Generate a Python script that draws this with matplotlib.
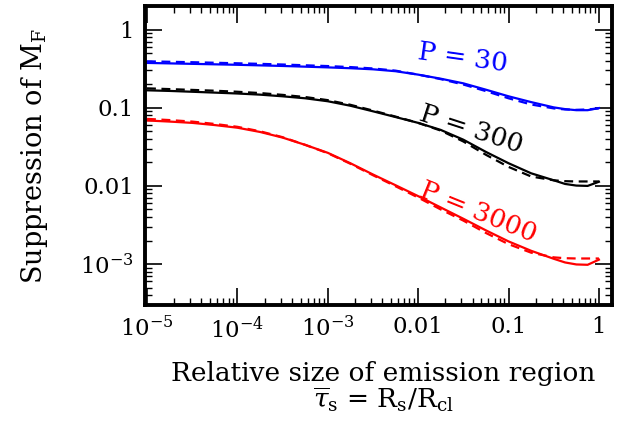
import numpy as np
import matplotlib
matplotlib.use("Agg")
from matplotlib import pyplot as plt

plt.rcParams["font.family"] = "DejaVu Serif"
plt.rcParams["mathtext.fontset"] = "dejavuserif"

# log10 of relative size, where curves were read
logx = [-5, -4.75, -4.5, -4.25, -4, -3.75, -3.5, -3.25, -3, -2.75, -2.5, -2.25,
        -2, -1.75, -1.5, -1.25, -1, -0.75, -0.5, -0.375, -0.25, -0.125, 0]

p30_solid = [0.374, 0.369, 0.364, 0.359, 0.354, 0.348, 0.342, 0.335, 0.328, 0.320, 0.310, 0.293,
             0.265, 0.235, 0.205, 0.170, 0.140, 0.118, 0.101, 0.096, 0.093, 0.093, 0.099]
p30_dash = [0.392, 0.387, 0.382, 0.376, 0.370, 0.364, 0.357, 0.349, 0.341, 0.331, 0.318, 0.298,
            0.265, 0.232, 0.198, 0.163, 0.132, 0.110, 0.098, 0.095, 0.094, 0.095, 0.098]
p300_solid = [0.167, 0.164, 0.160, 0.156, 0.152, 0.147, 0.140, 0.132, 0.121, 0.106, 0.090, 0.076,
              0.064, 0.052, 0.039, 0.0272, 0.0195, 0.0145, 0.0118, 0.0106, 0.0101, 0.0100, 0.0113]
p300_dash = [0.177, 0.173, 0.169, 0.165, 0.160, 0.154, 0.146, 0.137, 0.125, 0.109, 0.092, 0.077,
             0.064, 0.051, 0.037, 0.0250, 0.0175, 0.0132, 0.0118, 0.0115, 0.0114, 0.0114, 0.0114]
p3000_solid = [0.0687, 0.0665, 0.064, 0.060, 0.0555, 0.049, 0.0415, 0.0335, 0.0265, 0.0195, 0.0140, 0.0102,
               0.0074, 0.0053, 0.0038, 0.0027, 0.00195, 0.00148, 0.00117, 0.00105, 0.00099, 0.00098, 0.00114]
p3000_dash = [0.072, 0.0695, 0.0665, 0.062, 0.057, 0.050, 0.042, 0.0335, 0.0262, 0.0192, 0.0137, 0.0099,
              0.0071, 0.0050, 0.0036, 0.0025, 0.00180, 0.00140, 0.00122, 0.00119, 0.00118, 0.00118, 0.00118]

xticks = [1e-5, 1e-4, 1e-3, 0.01, 0.1, 1]
xtick_labels = [r"$10^{-5}$", r"$10^{-4}$", r"$10^{-3}$", "0.01", "0.1", "1"]
yticks = [1e-3, 0.01, 0.1, 1]
ytick_labels = [r"$10^{-3}$", "0.01", "0.1", "1"]

x = 10.0 ** np.array(logx)

fig = plt.figure(figsize=(6.43, 4.28), dpi=100)
ax = fig.add_axes([0.2255, 0.2874, 0.7265, 0.6986])

ax.plot(x, p30_solid, color="blue", lw=1.6)
ax.plot(x, p30_dash, color="blue", lw=1.6, dashes=(4, 2.5))
ax.plot(x, p300_solid, color="black", lw=1.6)
ax.plot(x, p300_dash, color="black", lw=1.6, dashes=(4, 2.5))
ax.plot(x, p3000_solid, color="red", lw=1.6)
ax.plot(x, p3000_dash, color="red", lw=1.6, dashes=(4, 2.5))

ax.set_xscale("log")
ax.set_yscale("log")
ax.set_xlim(0.95e-5, 1.4)
ax.set_ylim(3e-4, 2.0)

ax.set_xticks(xticks)
ax.set_xticklabels(xtick_labels)
ax.set_yticks(yticks)
ax.set_yticklabels(ytick_labels)

ax.tick_params(which="both", direction="in", top=True, right=True, labelsize=16.5)
ax.tick_params(which="major", length=12, width=1.2, pad=8)
ax.tick_params(which="minor", length=5, width=1.0)
for s in ax.spines.values():
    s.set_linewidth(2.8)

ax.text(0.031, 0.43, "P = 30", color="blue", fontsize=19, rotation=-8,
        ha="center", va="center")
ax.text(0.0384, 0.0522, "P = 300", color="black", fontsize=19, rotation=-18,
        ha="center", va="center")
ax.text(0.0457, 0.00464, "P = 3000", color="red", fontsize=19, rotation=-22,
        ha="center", va="center")

ax.set_ylabel(r"Suppression of M$_\mathrm{F}$", fontsize=19.5, labelpad=22)
ax.set_xlabel("Relative size of emission region\n"
              r"$\overline{\tau}_\mathrm{s}$ = R$_\mathrm{s}$/R$_\mathrm{cl}$",
              fontsize=19, ha="center", x=0.51, linespacing=1.0, labelpad=13)

fig.savefig("out.png", dpi=100)
